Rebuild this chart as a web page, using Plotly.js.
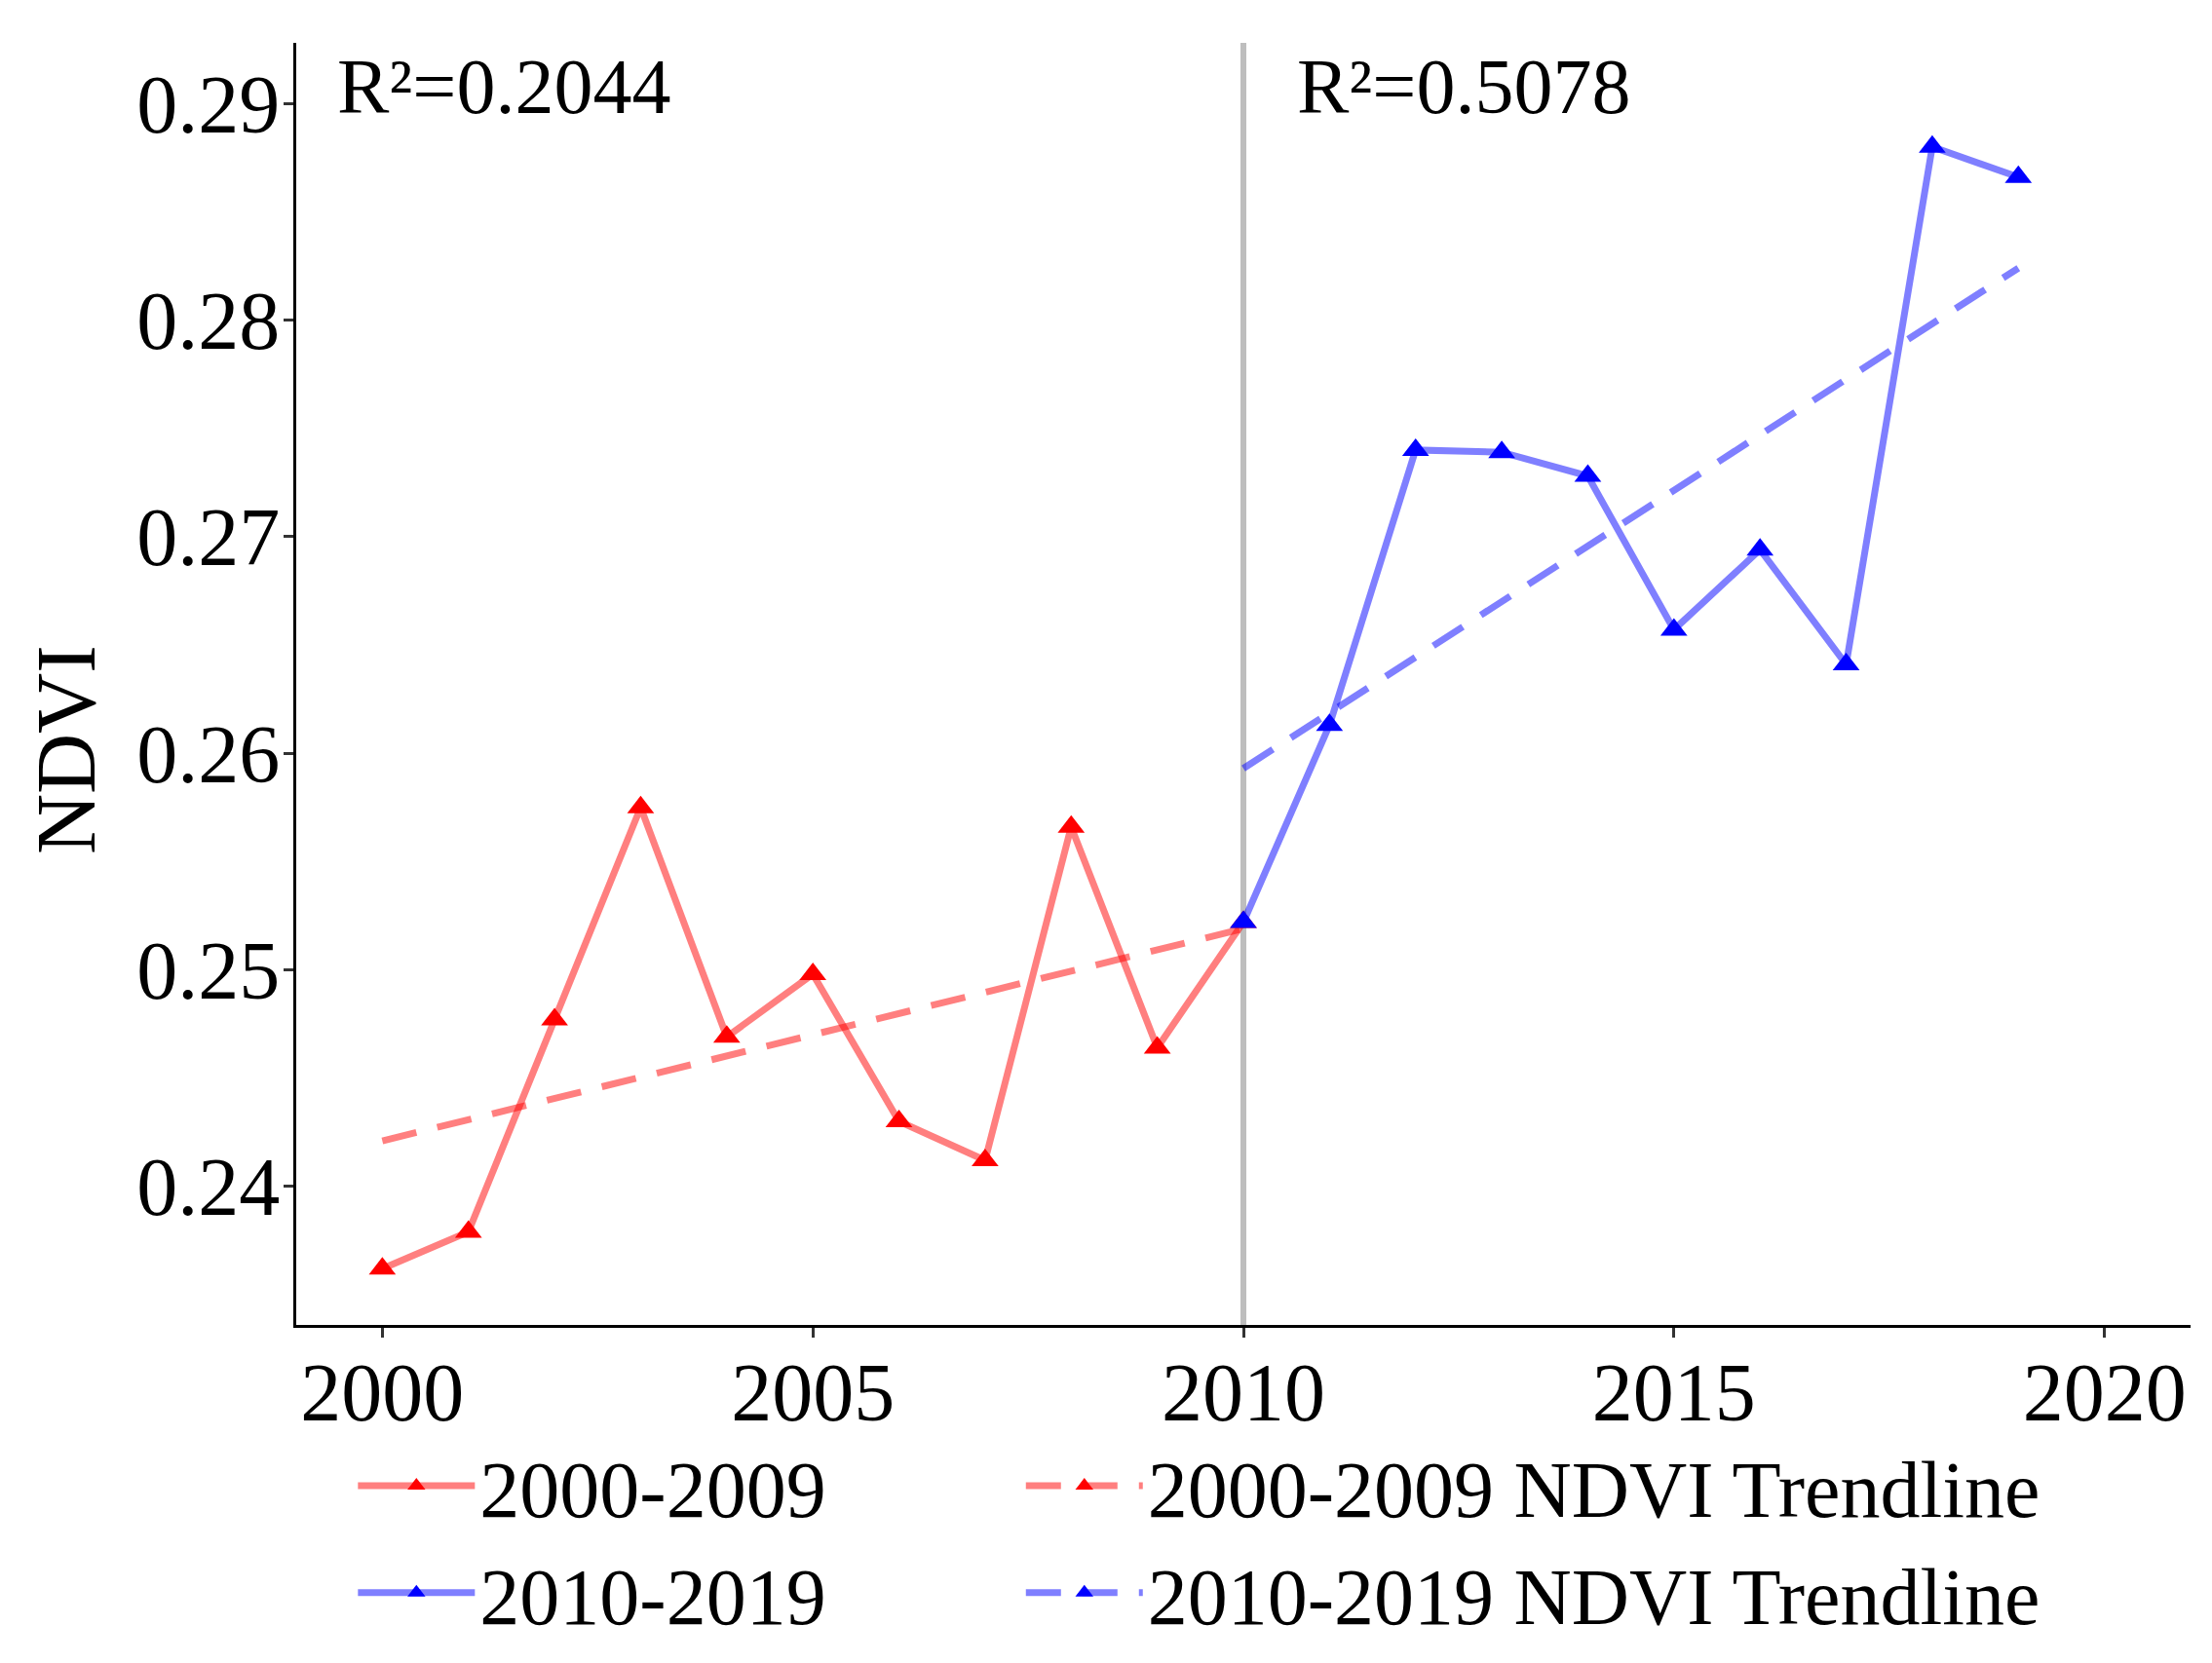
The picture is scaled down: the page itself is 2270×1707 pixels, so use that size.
<!DOCTYPE html>
<html>
<head>
<meta charset="utf-8">
<script src="https://cdn.plot.ly/plotly-3.0.1.min.js"></script>
<style>
  html, body { margin: 0; padding: 0; background: #fff; }
  #chart { width: 2270px; height: 1707px; }
</style>
</head>
<body>
<div id="chart"></div>
<script>
// yearly NDVI, first decade (line runs on to 2010 to meet the second one)
var years1 = [2000, 2001, 2002, 2003, 2004, 2005, 2006, 2007, 2008, 2009, 2010];
var ndvi1 = [0.2362, 0.2379, 0.2477, 0.2575, 0.2469, 0.2498, 0.2430, 0.2412, 0.2566, 0.2464, 0.2522];

// second decade
var years2 = [2010, 2011, 2012, 2013, 2014, 2015, 2016, 2017, 2018, 2019];
var ndvi2 = [0.2522, 0.2613, 0.2740, 0.2739, 0.2728, 0.2657, 0.2694, 0.2641, 0.2880, 0.2866];

// trendline end points
var trendX1 = [2000, 2010];
var trendY1 = [0.2421, 0.2519];
var trendX2 = [2010, 2019];
var trendY2 = [0.2593, 0.2824];

var breakYear = 2010;
var r2Labels = ['R²=0.2044', 'R²=0.5078'];
var names = ['2000-2009', '2000-2009 NDVI Trendline', '2010-2019', '2010-2019 NDVI Trendline'];

var font = 'Liberation Serif, Times New Roman, serif';

var trend1 = {
  x: trendX1,
  y: trendY1,
  mode: 'lines+markers',
  type: 'scatter',
  name: names[1],
  legend: 'legend2',
  legendrank: 1,
  line: { color: 'rgba(255,0,0,0.5)', width: 7, dash: '36px,22px' },
  marker: { symbol: 'triangle-up', color: 'red', size: 24 },
  // markers only wanted in the legend, so hide them on the plot
  selectedpoints: [],
  unselected: { marker: { opacity: 0 } },
  hoverinfo: 'skip'
};

var trend2 = {
  x: trendX2,
  y: trendY2,
  mode: 'lines+markers',
  type: 'scatter',
  name: names[3],
  legend: 'legend2',
  legendrank: 2,
  line: { color: 'rgba(0,0,255,0.5)', width: 7, dash: '36px,22px' },
  marker: { symbol: 'triangle-up', color: 'blue', size: 24 },
  selectedpoints: [],
  unselected: { marker: { opacity: 0 } },
  hoverinfo: 'skip'
};

var trace1 = {
  x: years1,
  y: ndvi1,
  mode: 'lines+markers',
  type: 'scatter',
  name: names[0],
  legendrank: 1,
  line: { color: 'rgba(255,0,0,0.5)', width: 7 },
  marker: { symbol: 'triangle-up', color: 'red', size: 24 }
};

var trace2 = {
  x: years2,
  y: ndvi2,
  mode: 'lines+markers',
  type: 'scatter',
  name: names[2],
  legendrank: 2,
  line: { color: 'rgba(0,0,255,0.5)', width: 7 },
  marker: { symbol: 'triangle-up', color: 'blue', size: 24 }
};

var data = [trend1, trend2, trace1, trace2];

var legendStyle = function(x) {
  return {
    x: x,
    xanchor: 'left',
    y: -0.08,
    yanchor: 'top',
    font: { family: font, size: 82, color: 'black' },
    itemwidth: 120,
    bgcolor: 'rgba(0,0,0,0)'
  };
};

var layout = {
  width: 2270,
  height: 1707,
  margin: { l: 304, r: 22, t: 44, b: 331 },
  paper_bgcolor: 'white',
  plot_bgcolor: 'white',
  font: { family: font, size: 80, color: 'black' },
  showlegend: true,
  xaxis: {
    range: [1999, 2021],
    tick0: 2000,
    dtick: 5,
    showgrid: false,
    zeroline: false,
    showline: true,
    linecolor: 'black',
    linewidth: 3,
    ticks: 'outside',
    ticklen: 10,
    tickwidth: 3,
    tickcolor: '#333',
    ticklabelstandoff: -16,
    tickfont: { family: font, size: 84, color: 'black' }
  },
  yaxis: {
    range: [0.2336, 0.2928],
    tick0: 0.24,
    dtick: 0.01,
    tickformat: '.2f',
    showgrid: false,
    zeroline: false,
    showline: true,
    linecolor: 'black',
    linewidth: 3,
    ticks: 'outside',
    ticklen: 10,
    tickwidth: 3,
    tickcolor: '#333',
    ticklabelstandoff: -13,
    tickfont: { family: font, size: 84, color: 'black' }
  },
  legend: legendStyle(0.03),
  legend2: legendStyle(0.3826),
  shapes: [{
    type: 'line',
    xref: 'x',
    yref: 'paper',
    x0: breakYear,
    x1: breakYear,
    y0: 0,
    y1: 1,
    layer: 'below',
    line: { color: '#bebebe', width: 6 }
  }],
  annotations: [{
    // y axis title, placed by hand as in the source figure
    xref: 'paper', yref: 'paper',
    x: -0.1214, y: 0.449,
    xanchor: 'center', yanchor: 'middle',
    text: 'NDVI',
    textangle: -90,
    showarrow: false,
    font: { family: font, size: 86, color: 'black' }
  }, {
    xref: 'paper', yref: 'paper',
    x: 0.0206, y: 0.966,
    xanchor: 'left', yanchor: 'middle',
    text: r2Labels[0],
    showarrow: false,
    font: { family: font, size: 80, color: 'black' }
  }, {
    xref: 'paper', yref: 'paper',
    x: 0.5275, y: 0.966,
    xanchor: 'left', yanchor: 'middle',
    text: r2Labels[1],
    showarrow: false,
    font: { family: font, size: 80, color: 'black' }
  }]
};

Plotly.newPlot('chart', data, layout, { displayModeBar: false, staticPlot: true });
</script>
</body>
</html>
